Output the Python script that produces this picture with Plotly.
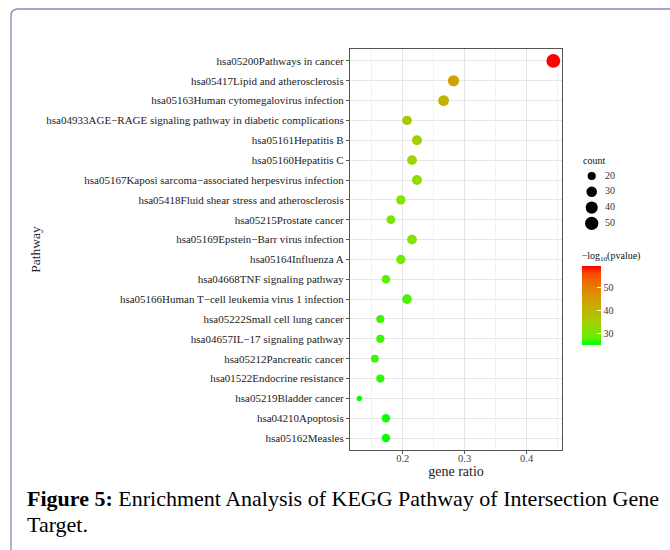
import plotly.graph_objects as go
import numpy as np

pathways = [
    "hsa05200Pathways in cancer",
    "hsa05417Lipid and atherosclerosis",
    "hsa05163Human cytomegalovirus infection",
    "hsa04933AGE\u2212RAGE signaling pathway in diabetic complications",
    "hsa05161Hepatitis B",
    "hsa05160Hepatitis C",
    "hsa05167Kaposi sarcoma\u2212associated herpesvirus infection",
    "hsa05418Fluid shear stress and atherosclerosis",
    "hsa05215Prostate cancer",
    "hsa05169Epstein\u2212Barr virus infection",
    "hsa05164Influenza A",
    "hsa04668TNF signaling pathway",
    "hsa05166Human T\u2212cell leukemia virus 1 infection",
    "hsa05222Small cell lung cancer",
    "hsa04657IL\u221217 signaling pathway",
    "hsa05212Pancreatic cancer",
    "hsa01522Endocrine resistance",
    "hsa05219Bladder cancer",
    "hsa04210Apoptosis",
    "hsa05162Measles",
]
gene_ratio = [0.443, 0.282, 0.266, 0.207, 0.223, 0.215, 0.223, 0.197, 0.181, 0.215,
              0.197, 0.173, 0.207, 0.164, 0.164, 0.155, 0.164, 0.130, 0.173, 0.173]
counts = [54, 34, 32, 25, 27, 26, 27, 24, 22, 26, 24, 21, 25, 20, 20, 19, 20, 16, 21, 21]
neg_log10_p = [59.5, 44.0, 41.0, 37.0, 35.0, 34.5, 33.0, 31.0, 30.0, 31.5,
               29.5, 28.0, 27.5, 27.0, 27.0, 27.0, 26.5, 25.0, 25.5, 25.2]
legend_counts = [20, 30, 40, 50]
color_ticks = [30, 40, 50]
x_ticks = [0.2, 0.3, 0.4]
x_minor = [0.15, 0.25, 0.35, 0.45]

# ---- styling helpers ----
W, H = 670, 550
L, R, T, B = 350, 562, 49, 450  # main panel in pixels
PR = W  # paper right edge (margin r = 0)


def px_x(p):
    return (p - L) / (PR - L)


def px_y(p):
    return (B - p) / (B - T)


cmin_c, cmax_c = min(counts), max(counts)
dmin, dmax = 5.5, 13.8


def size_of(c):
    return float(dmin + (dmax - dmin) * np.sqrt((c - cmin_c) / (cmax_c - cmin_c)))


# Lab interpolation green -> red (like ggplot scale_colour_gradient)
def srgb_to_lab(rgb):
    c = np.array(rgb) / 255.0
    c = np.where(c > 0.04045, ((c + 0.055) / 1.055) ** 2.4, c / 12.92)
    M = np.array([[0.4124, 0.3576, 0.1805], [0.2126, 0.7152, 0.0722], [0.0193, 0.1192, 0.9505]])
    xyz = M @ c / np.array([0.95047, 1.0, 1.08883])
    f = np.where(xyz > 0.008856, np.cbrt(xyz), 7.787 * xyz + 16 / 116)
    return np.array([116 * f[1] - 16, 500 * (f[0] - f[1]), 200 * (f[1] - f[2])])


def lab_to_srgb(lab):
    Lc, a, b = lab
    fy = (Lc + 16) / 116
    fx = fy + a / 500
    fz = fy - b / 200
    f = np.array([fx, fy, fz])
    xyz = np.where(f ** 3 > 0.008856, f ** 3, (f - 16 / 116) / 7.787) * np.array([0.95047, 1.0, 1.08883])
    Minv = np.array([[3.2406, -1.5372, -0.4986], [-0.9689, 1.8758, 0.0415], [0.0557, -0.2040, 1.0570]])
    c = np.clip(Minv @ xyz, 0, 1)
    c = np.where(c > 0.0031308, 1.055 * c ** (1 / 2.4) - 0.055, 12.92 * c)
    return tuple(int(round(v * 255)) for v in np.clip(c, 0, 1))


lab_lo = srgb_to_lab((0, 255, 0))
lab_hi = srgb_to_lab((255, 0, 0))
colorscale = []
for t in np.linspace(0, 1, 11):
    r, g, b = lab_to_srgb(lab_lo + (lab_hi - lab_lo) * t)
    colorscale.append([float(t), f"rgb({r},{g},{b})"])

serif = "Liberation Serif"

fig = go.Figure()
fig.add_trace(go.Scatter(
    x=gene_ratio, y=pathways, mode="markers", showlegend=False,
    marker=dict(
        size=[size_of(c) for c in counts],
        color=neg_log10_p, colorscale=colorscale,
        cmin=min(neg_log10_p), cmax=max(neg_log10_p),
        line=dict(width=0), opacity=1,
        colorbar=dict(
            x=px_x(581.7), xanchor="left", xpad=0,
            y=px_y(345), yanchor="bottom", ypad=0,
            len=97, lenmode="pixels", thickness=19, thicknessmode="pixels",
            outlinewidth=0,
            tickvals=color_ticks, ticks="inside", tickcolor="white", ticklen=4,
            tickfont=dict(family=serif, size=10, color="#333"),
            title=dict(text="\u2212log<sub>10</sub>(pvalue)", side="top",
                       font=dict(family=serif, size=10, color="#111")),
        ),
    ),
    hovertemplate="%{y}<br>gene ratio=%{x}<extra></extra>",
))

# ---- manual size legend on an overlay axis (pixel-like units) ----
leg_top, leg_step = 176.0, 15.8
leg_y = [leg_top + i * leg_step for i in range(len(legend_counts))]
leg_key_x, leg_lab_x = 591.7, 605.0
fig.add_trace(go.Scatter(
    x=[leg_key_x] * len(legend_counts), y=leg_y, mode="markers",
    marker=dict(size=[size_of(c) for c in legend_counts], color="#000000",
                opacity=1, line=dict(width=0)),
    xaxis="x2", yaxis="y2", showlegend=False, hoverinfo="skip",
))
fig.add_trace(go.Scatter(
    x=[leg_lab_x] * len(legend_counts), y=leg_y, mode="text",
    text=[str(c) for c in legend_counts], textposition="middle right",
    textfont=dict(family=serif, size=10, color="#333"),
    xaxis="x2", yaxis="y2", showlegend=False, hoverinfo="skip",
))

fig.update_layout(
    width=W, height=H, autosize=False,
    margin=dict(l=L, r=W - PR, t=T, b=H - B, pad=0),
    paper_bgcolor="white", plot_bgcolor="white",
    font=dict(family=serif, color="#222"),
    showlegend=False,
    xaxis=dict(
        domain=[0, px_x(R)],
        range=[0.115, 0.457], tickvals=x_ticks, ticktext=[f"{v:.1f}" for v in x_ticks],
        showgrid=True, gridcolor="#e6e6e6", gridwidth=1,
        minor=dict(tickvals=x_minor, showgrid=True, gridcolor="#f2f2f2", gridwidth=0.6, ticks=""),
        zeroline=False, showline=True, mirror=True, linecolor="#555", linewidth=1.2,
        ticks="outside", ticklen=3, tickcolor="#555", ticklabelstandoff=-5,
        tickfont=dict(family=serif, size=10.5, color="#444"),
        title=dict(text="gene ratio", font=dict(family=serif, size=14, color="#222"), standoff=0),
    ),
    yaxis=dict(
        type="category", categoryorder="array", categoryarray=pathways,
        range=[len(pathways) - 0.4, -0.6],
        showgrid=True, gridcolor="#e6e6e6", gridwidth=1,
        zeroline=False, showline=True, mirror=True, linecolor="#555", linewidth=1.2,
        ticks="outside", ticklen=3, tickcolor="#555",
        tickfont=dict(family=serif, size=11, color="#222"),
        title=dict(text="Pathway", font=dict(family=serif, size=13.5, color="#222"), standoff=2),
    ),
    xaxis2=dict(domain=[px_x(575), px_x(660)], range=[575, 660], visible=False,
                anchor="y2", fixedrange=True),
    yaxis2=dict(domain=[px_y(240), px_y(165)], range=[240, 165], visible=False,
                anchor="x2", fixedrange=True),
)

fig.add_annotation(text="count", xref="paper", yref="paper", x=px_x(581), y=px_y(160),
                   xanchor="left", yanchor="middle", showarrow=False,
                   font=dict(family=serif, size=10, color="#111"))

# frame with rounded top-left corner
path = (f"M {px_x(11)},{px_y(600)} L {px_x(11)},{px_y(16)} "
        f"Q {px_x(11)},{px_y(9)} {px_x(18)},{px_y(9)} L {px_x(700)},{px_y(9)}")
fig.add_shape(type="path", path=path, xref="paper", yref="paper",
              line=dict(color="#8a87b8", width=1.3), layer="above")

fig.add_annotation(
    text="<b>Figure 5:</b> Enrichment Analysis of KEGG Pathway of Intersection Gene",
    xref="paper", yref="paper", x=px_x(25), y=px_y(498), xanchor="left", yanchor="middle",
    align="left", showarrow=False, font=dict(family=serif, size=22, color="black"),
)
fig.add_annotation(
    text="Target.",
    xref="paper", yref="paper", x=px_x(25), y=px_y(524), xanchor="left", yanchor="middle",
    align="left", showarrow=False, font=dict(family=serif, size=22, color="black"),
)

fig.write_html("out.html", config={"displayModeBar": False},
               post_script="document.body.style.margin='0';")
